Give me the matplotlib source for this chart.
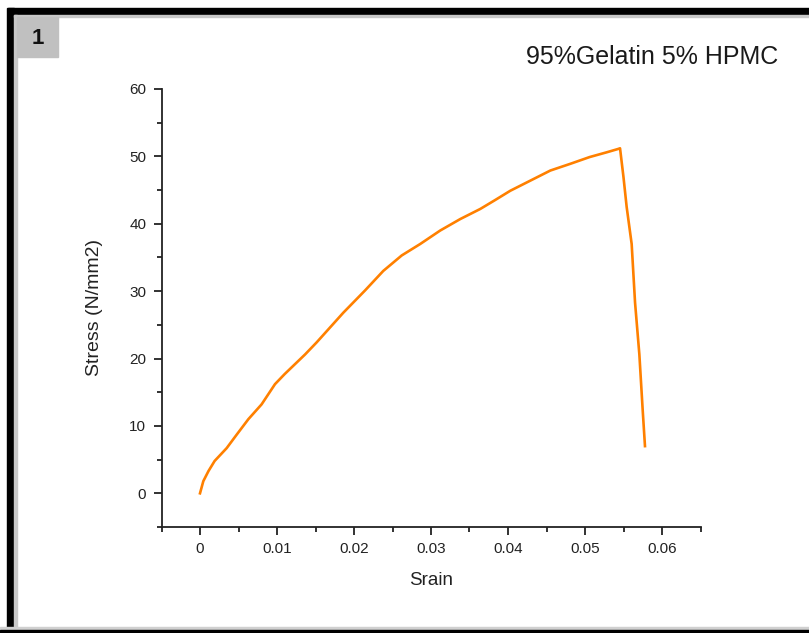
import matplotlib
matplotlib.use('Agg')
from matplotlib import pyplot as plt
from matplotlib.patches import Rectangle
from matplotlib.ticker import MultipleLocator

# strain / stress
strain = [0, 0.00043, 0.0011, 0.0019, 0.00346, 0.00476, 0.00628, 0.0080, 0.00974,
          0.0110, 0.01364, 0.01515, 0.01861, 0.02143, 0.0238, 0.0262, 0.0286,
          0.0312, 0.0338, 0.0364, 0.0383, 0.0403, 0.0429, 0.0455, 0.0481, 0.0506,
          0.0528, 0.0543, 0.05455, 0.0550, 0.05541, 0.05606, 0.0565, 0.05706,
          0.0575, 0.05779]
stress = [0, 1.8, 3.3, 4.8, 6.7, 8.7, 11.0, 13.2, 16.2, 17.7, 20.6, 22.4, 26.8,
          30.1, 33.0, 35.3, 37.0, 39.0, 40.7, 42.2, 43.5, 44.9, 46.4, 47.9, 48.9,
          49.9, 50.6, 51.1, 51.2, 46.9, 42.5, 37.0, 28.3, 20.6, 12.2, 7.0]

plt.rcParams['font.family'] = ['Liberation Sans', 'DejaVu Sans']

W, H = 809, 633
fig = plt.figure(figsize=(W / 100, H / 100), dpi=100)

# window frame
def box(x0, y0, x1, y1, color):
    fig.patches.append(Rectangle((x0 / W, 1 - y1 / H), (x1 - x0) / W, (y1 - y0) / H,
                                 transform=fig.transFigure, color=color, zorder=0))

box(8, 8, W, 15, 'black')
box(7, 8, 14, H, 'black')
box(14, 15, W, 17, '#c8c8c8')
box(14, 15, 17, H, '#c8c8c8')
box(0, 627, W, 630, '#d0d0d0')
box(0, 630, W, H, 'black')
box(17, 17, 58, 57, '#c0c0c0')
fig.text(37.5 / W, 1 - 39 / H, '1', fontsize=16, fontweight='bold', ha='center',
         va='center', color='#111111')

ax = fig.add_axes([161.5 / W, 1 - 527 / H, (700.5 - 161.5) / W, (527 - 89) / H])
ax.plot(strain, stress, color='#ff8000', lw=1.9)
ax.set_xlim(-0.005, 0.065)
ax.set_ylim(-5, 60)
ax.xaxis.set_minor_locator(MultipleLocator(0.005))
ax.yaxis.set_major_locator(MultipleLocator(10))
ax.yaxis.set_minor_locator(MultipleLocator(5))
ax.set_xticks([0, 0.01, 0.02, 0.03, 0.04, 0.05, 0.06])
ax.set_xticklabels(['0', '0.01', '0.02', '0.03', '0.04', '0.05', '0.06'])
ax.spines['top'].set_visible(False)
ax.spines['right'].set_visible(False)
for s in ['left', 'bottom']:
    ax.spines[s].set_linewidth(1.3)
    ax.spines[s].set_color('#222222')
ax.tick_params(which='major', direction='out', length=6, width=1.3, labelsize=11,
               colors='#222222', pad=5)
ax.tick_params(which='minor', direction='out', length=3.5, width=1.3, colors='#222222')
ax.set_xlabel('Srain', fontsize=13.5, color='#222222', labelpad=11)
ax.set_ylabel('Stress (N/mm2)', fontsize=14, color='#222222', labelpad=19)

fig.text(778 / W, 1 - 57 / H, '95%Gelatin 5% HPMC', fontsize=18, ha='right',
         va='center', color='#1a1a1a')

fig.savefig('out.png', dpi=100)
